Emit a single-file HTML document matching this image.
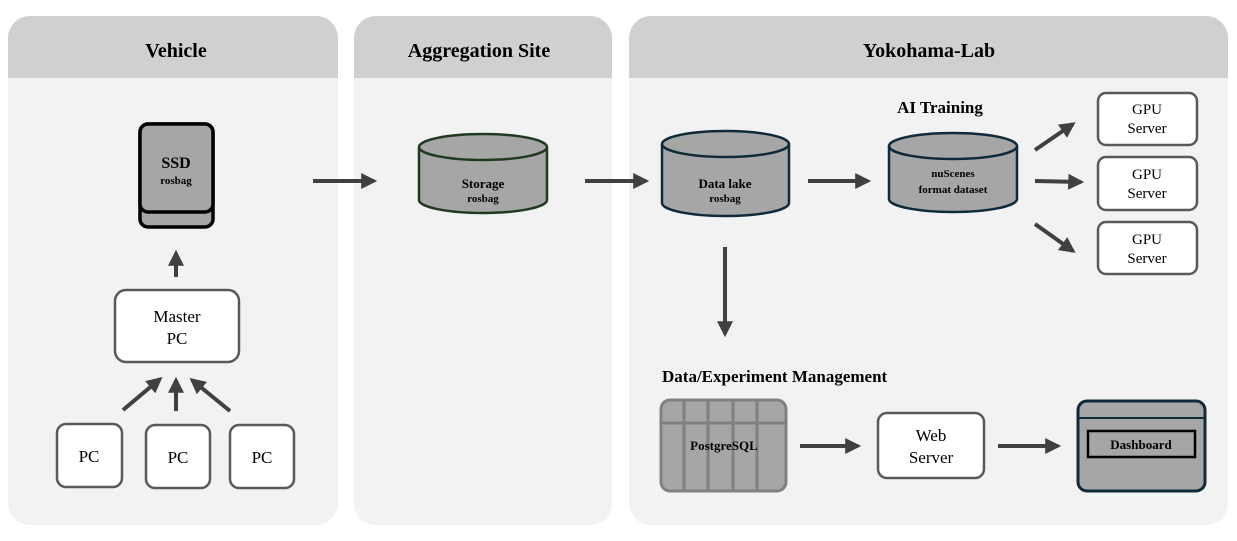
<!DOCTYPE html>
<html><head><meta charset="utf-8"><style>
html,body{margin:0;padding:0;background:#fff;}
svg{display:block;font-family:"Liberation Serif","DejaVu Serif",serif;}
</style></head><body>
<svg width="1237" height="541" viewBox="0 0 1237 541" xmlns="http://www.w3.org/2000/svg">
<defs>
<marker id="ah" viewBox="0 0 10 10" refX="8" refY="5" markerWidth="4" markerHeight="4" orient="auto" markerUnits="strokeWidth">
<path d="M0,0 L10,5 L0,10 z" fill="#404040"/></marker>
<clipPath id="c1"><rect x="8" y="16" width="330" height="509" rx="22"/></clipPath>
<clipPath id="c2"><rect x="354" y="16" width="258" height="509" rx="22"/></clipPath>
<clipPath id="c3"><rect x="629" y="16" width="599" height="509" rx="22"/></clipPath>
</defs>
<g clip-path="url(#c1)"><rect x="8" y="16" width="330" height="509" fill="#f2f2f2"/><rect x="8" y="16" width="330" height="62" fill="#d0d0d0"/></g>
<g clip-path="url(#c2)"><rect x="354" y="16" width="258" height="509" fill="#f2f2f2"/><rect x="354" y="16" width="258" height="62" fill="#d0d0d0"/></g>
<g clip-path="url(#c3)"><rect x="629" y="16" width="599" height="509" fill="#f2f2f2"/><rect x="629" y="16" width="599" height="62" fill="#d0d0d0"/></g>
<g font-weight="bold" font-size="20" text-anchor="middle">
<text x="176" y="57">Vehicle</text>
<text x="479" y="57">Aggregation Site</text>
<text x="929" y="57">Yokohama-Lab</text>
</g>
<g stroke="#404040" stroke-width="4" fill="none" marker-end="url(#ah)">
<line x1="313" y1="181" x2="374" y2="181"/>
<line x1="585" y1="181" x2="646" y2="181"/>
<line x1="808" y1="181" x2="868" y2="181"/>
<line x1="1035" y1="150" x2="1073" y2="124"/>
<line x1="1035" y1="181" x2="1081" y2="182"/>
<line x1="1035" y1="224" x2="1073" y2="251"/>
<line x1="725" y1="247" x2="725" y2="334"/>
<line x1="800" y1="446" x2="858" y2="446"/>
<line x1="998" y1="446" x2="1058" y2="446"/>
<line x1="176" y1="277" x2="176" y2="253"/>
<line x1="123" y1="410" x2="160" y2="379"/>
<line x1="176" y1="411" x2="176" y2="380"/>
<line x1="230" y1="411" x2="192" y2="380"/>
</g>
<!-- SSD -->
<rect x="140" y="124" width="73" height="103" rx="8" fill="#a6a6a6" stroke="#000" stroke-width="3.5"/>
<rect x="140" y="124" width="73" height="88" rx="8" fill="#a6a6a6" stroke="#000" stroke-width="3.5"/>
<text x="176" y="168" text-anchor="middle" font-weight="bold" font-size="16">SSD</text>
<text x="176" y="184" text-anchor="middle" font-weight="bold" font-size="11">rosbag</text>
<!-- cylinders -->
<g stroke-width="2.5" fill="#a6a6a6">
<path d="M419,147 V200 A64,13 0 0 0 547,200 V147" stroke="#1f3a1f"/>
<ellipse cx="483" cy="147" rx="64" ry="13" stroke="#1f3a1f"/>
<path d="M662,144 V203 A63.5,13 0 0 0 789,203 V144" stroke="#0f2a3a"/>
<ellipse cx="725.5" cy="144" rx="63.5" ry="13" stroke="#0f2a3a"/>
<path d="M889,146 V199 A64,13 0 0 0 1017,199 V146" stroke="#0f2a3a"/>
<ellipse cx="953" cy="146" rx="64" ry="13" stroke="#0f2a3a"/>
</g>
<g text-anchor="middle" font-weight="bold">
<text x="483" y="188" font-size="13">Storage</text>
<text x="483" y="202" font-size="11">rosbag</text>
<text x="725" y="188" font-size="13">Data lake</text>
<text x="725" y="202" font-size="11">rosbag</text>
<text x="953" y="177" font-size="11">nuScenes</text>
<text x="953" y="193" font-size="11">format dataset</text>
</g>
<text x="940" y="113" text-anchor="middle" font-weight="bold" font-size="17">AI Training</text>
<text x="662" y="382" font-weight="bold" font-size="17">Data/Experiment Management</text>
<!-- white boxes -->
<g fill="#fff" stroke="#595959" stroke-width="2.5">
<rect x="1098" y="93" width="99" height="52" rx="8"/>
<rect x="1098" y="157" width="99" height="53" rx="8"/>
<rect x="1098" y="222" width="99" height="52" rx="8"/>
<rect x="878" y="413" width="106" height="65" rx="9"/>
<rect x="115" y="290" width="124" height="72" rx="11"/>
<rect x="57" y="424" width="65" height="63" rx="9"/>
<rect x="146" y="425" width="64" height="63" rx="9"/>
<rect x="230" y="425" width="64" height="63" rx="9"/>
</g>
<g text-anchor="middle" font-size="15" fill="#000">
<text x="1147" y="114">GPU</text><text x="1147" y="133">Server</text>
<text x="1147" y="179">GPU</text><text x="1147" y="198">Server</text>
<text x="1147" y="244">GPU</text><text x="1147" y="263">Server</text>
<text x="931" y="441" font-size="17">Web</text><text x="931" y="463" font-size="17">Server</text>
<text x="177" y="322" font-size="17">Master</text><text x="177" y="344" font-size="17">PC</text>
<text x="89" y="462" font-size="17">PC</text>
<text x="178" y="463" font-size="17">PC</text>
<text x="262" y="463" font-size="17">PC</text>
</g>
<!-- PostgreSQL -->
<rect x="661" y="400" width="125" height="91" rx="9" fill="#a6a6a6" stroke="#808080" stroke-width="3"/>
<g stroke="#808080" stroke-width="3">
<line x1="661" y1="423" x2="786" y2="423"/>
<line x1="684" y1="400" x2="684" y2="491"/>
<line x1="708" y1="400" x2="708" y2="491"/>
<line x1="733" y1="400" x2="733" y2="491"/>
<line x1="757" y1="400" x2="757" y2="491"/>
</g>
<text x="724" y="450" text-anchor="middle" font-weight="bold" font-size="13">PostgreSQL</text>
<!-- Dashboard -->
<rect x="1078" y="401" width="127" height="90" rx="9" fill="#a6a6a6" stroke="#0f2a3a" stroke-width="3"/>
<line x1="1078" y1="418" x2="1205" y2="418" stroke="#0f2a3a" stroke-width="2"/>
<rect x="1088" y="431" width="107" height="26" fill="#a6a6a6" stroke="#000" stroke-width="2.5"/>
<text x="1141" y="449" text-anchor="middle" font-weight="bold" font-size="13">Dashboard</text>
</svg>
</body></html>
